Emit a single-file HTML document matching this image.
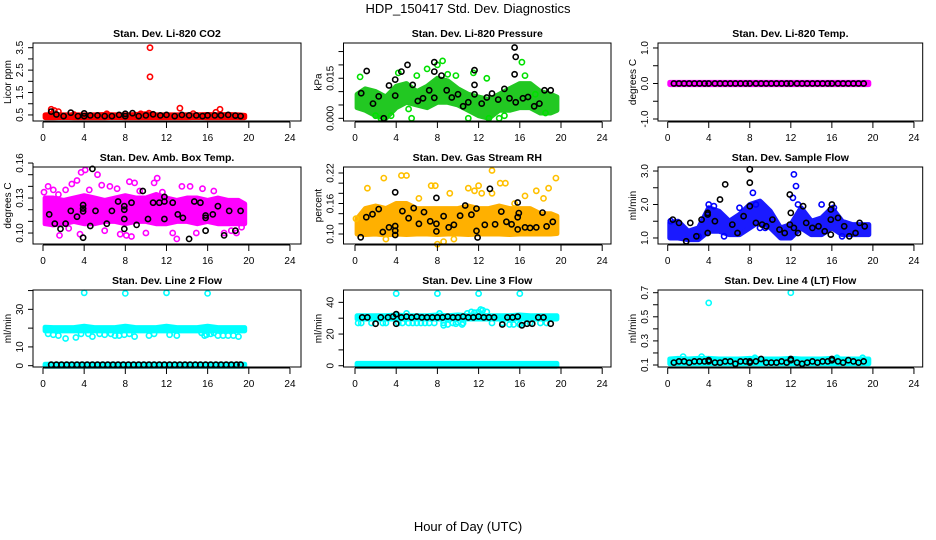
<!DOCTYPE html>
<html><head><meta charset="utf-8"><style>
body{margin:0;background:#fff;}
svg{display:block;font-family:"Liberation Sans",Arial,sans-serif;}
</style></head><body>
<svg id="chart" width="936" height="540" viewBox="0 0 936 540">
<rect width="936" height="540" fill="#fff"/>
<text x="468" y="13" text-anchor="middle" font-size="13">HDP_150417  Std. Dev. Diagnostics</text>
<text x="468" y="531" text-anchor="middle" font-size="13">Hour of Day (UTC)</text>
</svg>
<script>
const xTicks=[0,4,8,12,16,20,24];
const hrsB=[0.2,1,2,3,4,5,6,7,8,9,10,11,12,13,14,15,16,17,18,19,19.6];

// P1 CO2
const co2Lo=[0.38,0.38,0.39,0.38,0.38,0.38,0.38,0.39,0.38,0.38,0.38,0.38,0.38,0.38,0.38,0.39,0.38,0.38,0.38,0.38,0.38];
const co2Hi=[0.5,0.52,0.5,0.5,0.5,0.5,0.52,0.5,0.5,0.52,0.55,0.5,0.5,0.5,0.5,0.5,0.52,0.5,0.52,0.5,0.48];
const co2RedT=[0.8,1.1,1.5,10.4,10.4,13.3,17.2,16.8,10.3,14.6,6.2,9.5,3.0];
const co2RedV=[0.75,0.7,0.65,3.5,2.2,0.8,0.75,0.62,0.58,0.56,0.55,0.55,0.52];
const co2BlkT=[0.8,1.3,2.0,2.7,3.4,4.0,4.0,4.6,5.3,6.0,6.7,7.4,8.0,8.0,8.7,9.3,10.0,10.7,11.4,12.0,12.8,13.5,14.2,14.9,15.5,16.0,16.7,17.3,18.0,18.7,19.2];
const co2BlkV=[0.65,0.52,0.45,0.6,0.45,0.57,0.45,0.48,0.48,0.45,0.45,0.5,0.55,0.45,0.58,0.45,0.48,0.53,0.48,0.5,0.45,0.5,0.48,0.48,0.45,0.48,0.48,0.48,0.5,0.47,0.45];
// P2 Pressure
const presLo=[0.004,0.003,0.001,0.000,0.004,0.006,0.005,0.004,0.006,0.006,0.005,0.003,0.001,0.000,0.003,0.003,0.004,0.004,0.002,0.002,0.003];
const presHi=[0.009,0.011,0.010,0.008,0.012,0.013,0.010,0.012,0.015,0.014,0.011,0.009,0.008,0.007,0.009,0.011,0.013,0.013,0.010,0.009,0.008];
const presGrT=[0.5,2,2.5,3.5,5.2,5.5,7,8,8.5,9,11.5,11,13,14,14.5,16.5,16.2,17.5,18.5,4.2,6,9.8,12.8];
const presGrV=[0.0155,0.001,0,0.001,0.0035,0,0.0185,0.020,0.0215,0.0165,0.017,0,0,0,0.001,0.016,0.021,0.009,0.002,0.017,0.016,0.016,0.015];
const presBlkT=[1.14,0.6,1.75,2.3,2.8,3.9,3.9,3.3,4.5,5.1,5.6,6.1,6.6,7.2,7.7,7.7,7.7,8.4,8.9,9.4,10,10.5,11,11.6,11.6,11.6,12.3,12.8,13.3,13.9,14.5,15,15.5,15.6,15.5,15.6,16.3,16.8,17.4,17.9,18.4,19];
const presBlkV=[0.0177,0.0094,0.0055,0.0082,0,0.0085,0.0145,0.0123,0.0175,0.020,0.0125,0.0065,0.0075,0.0105,0.0175,0.021,0.0077,0.016,0.0105,0.0078,0.009,0.0045,0.006,0.018,0.0125,0.009,0.0055,0.0078,0.0093,0.007,0.011,0.0075,0.0265,0.023,0.0165,0.006,0.0075,0.008,0.0045,0.0055,0.0105,0.0105];
// P3 Li-820 Temp
const tempLo=[-0.03,-0.03,-0.03,-0.03,-0.03,-0.03,-0.03,-0.03,-0.03,-0.03,-0.03,-0.03,-0.03,-0.03,-0.03,-0.03,-0.03,-0.03,-0.03,-0.03,-0.03];
const tempHi=[0.03,0.03,0.03,0.03,0.03,0.03,0.03,0.03,0.03,0.03,0.03,0.03,0.03,0.03,0.03,0.03,0.03,0.03,0.03,0.03,0.03];
const tempBlkT=[0.6,1.1,1.6,2.1,2.6,3.1,3.6,4,4.6,5.1,5.6,6.1,6.6,7.1,7.6,8,8.6,9.1,9.6,10.1,10.6,11.1,11.6,12,12.6,13.1,13.6,14.1,14.6,15.1,15.6,16,16.6,17.1,17.6,18.1,18.6,19.1];
const tempBlkV=[0,0,0,0,0,0,0,0,0,0,0,0,0,0,0,0,0,0,0,0,0,0,0,0,0,0,0,0,0,0,0,0,0,0,0,0,0,0];
// P4 Amb box temp
const ambLo=[0.108,0.107,0.108,0.11,0.108,0.108,0.11,0.11,0.108,0.11,0.11,0.108,0.108,0.11,0.11,0.108,0.11,0.108,0.108,0.108,0.108];
const ambHi=[0.13,0.13,0.128,0.13,0.132,0.13,0.128,0.13,0.132,0.13,0.13,0.133,0.13,0.128,0.13,0.13,0.128,0.13,0.128,0.128,0.125];
const ambMgT=[0.1,0.5,1,1.5,1.6,2.2,2.8,3.3,3.7,4.1,3.6,4.5,5.3,5.7,6.5,7.2,7.5,8.1,8.4,8.6,8.9,9.4,10,10.8,11.1,11.6,12.6,13.0,13.5,14.3,14.9,15.5,16.6,17.6,18.3,18.8,19.3,6,2.5];
const ambMgV=[0.135,0.14,0.137,0.133,0.098,0.137,0.142,0.145,0.152,0.154,0.099,0.137,0.15,0.141,0.14,0.138,0.099,0.098,0.144,0.097,0.143,0.136,0.1,0.143,0.147,0.135,0.1,0.095,0.14,0.14,0.1,0.138,0.136,0.1,0.102,0.1,0.105,0.102,0.104];
const ambBlkT=[0.6,1.15,1.7,2.2,2.7,3.3,3.9,3.9,3.9,3.9,4.6,5.1,4.8,6.2,6.7,7.3,7.9,7.9,7.9,7.9,8.6,9.1,9.7,10.2,10.7,11.3,11.8,11.8,11.8,12.6,13.1,13.6,14.2,14.7,15.3,15.8,15.8,15.8,16.5,17,17.6,18.1,18.7,19.2];
const ambBlkV=[0.116,0.108,0.1035,0.108,0.119,0.114,0.121,0.124,0.1185,0.096,0.106,0.119,0.155,0.108,0.119,0.127,0.123,0.12,0.112,0.1035,0.126,0.107,0.136,0.112,0.126,0.126,0.127,0.131,0.112,0.126,0.116,0.113,0.095,0.127,0.126,0.115,0.113,0.102,0.116,0.123,0.098,0.119,0.102,0.119];
// P5 RH
const rhLo=[0.1,0.099,0.1,0.098,0.1,0.099,0.1,0.1,0.099,0.1,0.1,0.099,0.1,0.1,0.1,0.099,0.1,0.1,0.1,0.1,0.101];
const rhHi=[0.13,0.15,0.155,0.15,0.16,0.16,0.15,0.15,0.15,0.15,0.15,0.155,0.15,0.15,0.155,0.15,0.15,0.15,0.14,0.14,0.135];
const rhOrT=[0.1,1.2,2.8,4.5,5,6.2,7.4,7.8,8.6,9.2,11,11.6,12,12.3,13.3,13.3,14.1,14.6,16.5,17.6,18.3,18.8,19.5,8,3,9.6,15.5];
const rhOrV=[0.13,0.19,0.21,0.215,0.215,0.17,0.195,0.195,0.085,0.18,0.19,0.185,0.195,0.18,0.225,0.18,0.2,0.2,0.175,0.185,0.17,0.19,0.21,0.08,0.09,0.09,0.16];
const rhBlkT=[0.55,1.1,1.7,2.3,2.7,3.3,3.9,3.9,3.9,3.9,4.6,5.2,5.7,6.2,6.7,7.3,7.9,7.9,7.9,8.6,9.1,9.6,10.2,10.7,11.3,11.8,11.8,11.9,12.6,13.1,13.6,14.2,14.7,15.2,15.8,15.9,15.8,15.8,16.5,17,17.6,18.2,18.6,19.2];
const rhBlkV=[0.0935,0.133,0.139,0.149,0.104,0.113,0.1157,0.1065,0.098,0.182,0.145,0.131,0.151,0.12,0.143,0.125,0.171,0.12,0.105,0.135,0.113,0.118,0.136,0.156,0.138,0.15,0.106,0.093,0.118,0.189,0.119,0.144,0.124,0.119,0.162,0.141,0.133,0.109,0.113,0.112,0.113,0.142,0.115,0.124];
// P6 Sample flow
const sfLo=[1.0,1.0,0.95,0.95,1.2,1.2,1.1,1.1,1.3,1.5,1.3,1.0,1.0,1.3,1.1,1.1,1.3,1.1,1.1,1.1,1.1];
const sfHi=[1.45,1.5,1.2,1.3,1.9,1.8,1.5,1.7,2.0,2.1,1.8,1.3,1.4,1.9,1.5,1.6,1.9,1.5,1.4,1.4,1.4];
const sfBlT=[0.3,4,4.5,8.3,8.6,9,12.3,12.5,12.2,12.7,15,16.2,7,5.5,17,9.5,3];
const sfBlV=[1.5,2.0,1.95,2.35,2.0,1.3,2.9,2.55,2.2,2.0,2.0,1.9,1.9,1.05,1.05,1.3,1.05];
const sfBlkT=[0.5,1.1,1.8,2.2,2.8,3.3,3.9,3.9,3.9,4.6,5.1,5.6,6.3,6.8,7.4,8,8,8,8.6,9.2,9.6,10.2,10.9,11.4,11.9,12,11.9,12.3,12.7,13.2,13.5,14.1,14.7,15.3,15.9,15.9,15.9,16,16.6,17.2,17.7,18.3,18.7,19.2];
const sfBlkV=[1.55,1.45,0.9,1.45,1.05,1.55,1.75,1.7,1.15,1.5,2.15,2.6,1.4,1.15,1.65,3.05,2.65,1.95,1.45,1.4,1.35,1.55,1.25,1.15,2.3,1.75,1.4,1.3,1.15,1.95,1.45,1.3,1.35,1.2,1.1,1.55,1.85,2.0,1.6,1.35,1.05,1.15,1.45,1.35];
// P7 Line 2
const l2Lo=[18.5,18.5,18.5,18.5,18.5,18.5,18.5,18.5,18.5,18.5,18.5,18.5,18.5,18.5,18.5,18.5,18.5,18.5,18.5,18.5,18.5];
const l2Hi=[20.5,20.3,20.3,20.3,21,20.3,20.3,20.3,21,20.3,20.3,20.3,21,20.3,20.3,20.3,21,20.3,20.3,20.3,20.3];
const l2ZeroLo=[-0.3,-0.3,-0.3,-0.3,-0.3,-0.3,-0.3,-0.3,-0.3,-0.3,-0.3,-0.3,-0.3,-0.3,-0.3,-0.3,-0.3,-0.3,-0.3,-0.3,-0.3];
const l2ZeroHi=[0.8,0.8,0.8,0.8,0.8,0.8,0.8,0.8,0.8,0.8,0.8,0.8,0.8,0.8,0.8,0.8,0.8,0.8,0.8,0.8,0.8];
const l2CyT=[0.5,1,1.5,2.2,3.2,3.7,4.4,4.8,5.5,6,6.6,7,7.4,7.9,8.4,8.9,10.3,10.8,12.3,13,15.7,15.9,16.3,17,17.5,18,18.5,19,16.6,15.4,4,8,12,16];
const l2CyV=[17,16.5,16,14.5,15,17,17,15.5,17,16.5,17,16,16,16.5,17,15.5,16,17,16.5,16,16,16.5,17,16,16,16,16,15.5,17.5,17.5,38.8,38.5,38.8,38.5];
const l2BlkT=[0.8,1.3,1.8,2.3,2.8,3.3,3.8,4.3,4.8,5.3,5.8,6.3,6.8,7.3,7.8,8.3,8.8,9.3,9.8,10.3,10.8,11.3,11.8,12.3,12.8,13.3,13.8,14.3,14.8,15.3,15.8,16.3,16.8,17.3,17.8,18.3,18.8,19.2];
const l2BlkV=[0.5,0.5,0.5,0.5,0.5,0.5,0.5,0.5,0.5,0.5,0.5,0.5,0.5,0.5,0.5,0.5,0.5,0.5,0.5,0.5,0.5,0.5,0.5,0.5,0.5,0.5,0.5,0.5,0.5,0.5,0.5,0.5,0.5,0.5,0.5,0.5,0.5,0.5];
// P8 Line 3
const l3Lo=[29.5,29.5,29.5,29.5,29.5,29.5,29.5,29.5,29.5,29.5,29.5,29.5,29.5,29.5,29.5,29.5,29.5,29.5,29.5,29.5,29.5];
const l3Hi=[31.5,31.5,31.5,31.5,32,31.5,31.5,31.5,32,31.5,32,31.5,32,31.5,31.5,31.5,32,31.5,31.5,31.5,31.5];
const l3ZeroLo=[-0.3,-0.3,-0.3,-0.3,-0.3,-0.3,-0.3,-0.3,-0.3,-0.3,-0.3,-0.3,-0.3,-0.3,-0.3,-0.3,-0.3,-0.3,-0.3,-0.3,-0.3];
const l3ZeroHi=[1.5,1.5,1.5,1.5,1.5,1.5,1.5,1.5,1.5,1.5,1.5,1.5,1.5,1.5,1.5,1.5,1.5,1.5,1.5,1.5,1.5];
const l3CyT=[0.3,0.6,1.6,2.7,3,4.2,4.6,5.2,5.6,6,6.4,6.8,7.2,7.7,8.2,8.4,8.6,9,9.5,10,10.5,10.9,11.3,11.6,12,12.4,12.8,13.3,14.3,15,15.4,16,16.3,17,18,5,12.2,18.6,8.6,9.8,10.4,4,8,12,16];
const l3CyV=[27,27,27,27,27,27,27,27,27,27,27,27,27,27,33,31,27,26,27,27.5,27,33,34,33.5,34,35,34,27,27,26,26,26,27,27,27,33,35.5,27,25.5,26.5,26,45.5,45.5,45.5,45.5];
const l3BlkT=[0.7,1.2,2.0,2.5,3.2,3.7,4.0,4.0,4.5,5.0,5.5,6.0,6.5,7.0,7.5,8.0,8.5,9.0,9.5,10.0,10.5,11.0,11.5,12.0,12.5,13.0,13.5,14.3,14.8,15.3,15.8,16.2,16.7,17.2,17.8,18.3,19.0];
const l3BlkV=[30.5,30.5,26.5,30.5,30.5,31,32.5,26.5,30.5,31,30.5,31,30.5,30.5,30.5,30.5,30.5,31,30.5,30.5,31,30.5,30.5,31,30.5,30.5,30.5,26,30.5,30.5,31,25.5,26.5,26.5,30.5,30.5,26.5];
// P9 Line 4
const l4Lo=[0.11,0.11,0.11,0.11,0.11,0.11,0.11,0.11,0.11,0.11,0.11,0.11,0.11,0.11,0.11,0.11,0.11,0.11,0.11,0.11,0.11];
const l4Hi=[0.15,0.155,0.15,0.155,0.155,0.15,0.15,0.15,0.155,0.15,0.15,0.15,0.155,0.15,0.15,0.15,0.155,0.15,0.15,0.15,0.15];
const l4CyT=[4,12,1.5,3.3,8.5,16.5,19];
const l4CyV=[0.615,0.70,0.17,0.17,0.16,0.16,0.16];
const l4BlkT=[0.6,1.1,1.6,2.1,2.6,3.1,3.6,4,4,4.6,5.1,5.6,6.1,6.6,7.1,7.6,8,8,8.6,9.1,9.6,10.1,10.6,11.1,11.6,12,12,12.6,13.1,13.6,14.1,14.6,15.1,15.6,16,16,16.6,17.1,17.6,18.1,18.6,19.1];
const l4BlkV=[0.12,0.13,0.13,0.12,0.13,0.13,0.13,0.14,0.13,0.12,0.12,0.13,0.13,0.11,0.13,0.13,0.13,0.12,0.13,0.15,0.12,0.12,0.12,0.13,0.12,0.14,0.15,0.12,0.11,0.12,0.13,0.12,0.13,0.13,0.14,0.15,0.13,0.12,0.14,0.13,0.12,0.13];

const panels=[
 {name:'co2',col:0,row:0,title:'Stan. Dev. Li-820 CO2',ylab:'Licor ppm',ymin:0.23,ymax:3.71,yt:[0.5,1,1.5,2,2.5,3,3.5],yl:['0.5','1.5','2.5','3.5'],ylv:[0.5,1.5,2.5,3.5],
  layers:[{b:1,x:hrsB,lo:co2Lo,hi:co2Hi,c:'#ff0000'},{x:co2RedT,y:co2RedV,c:'#ff0000'},{x:co2BlkT,y:co2BlkV,c:'#000'}]},
 {name:'pressure',col:1,row:0,title:'Stan. Dev. Li-820 Pressure',ylab:'kPa',ymin:-0.001,ymax:0.0282,yt:[0,0.005,0.01,0.015,0.02,0.025],yl:['0.000','0.015'],ylv:[0,0.015],
  layers:[{b:1,x:hrsB,lo:presLo,hi:presHi,c:'#22c822'},{x:presGrT,y:presGrV,c:'#00e000'},{x:presBlkT,y:presBlkV,c:'#000'}]},
 {name:'li820-temp',col:2,row:0,title:'Stan. Dev. Li-820 Temp.',ylab:'degrees C',ymin:-1.056,ymax:1.14,yt:[-1,-0.5,0,0.5,1],yl:['-1.0','0.0','1.0'],ylv:[-1,0,1],
  layers:[{b:1,x:hrsB,lo:tempLo,hi:tempHi,c:'#ff00ff'},{x:tempBlkT,y:tempBlkV,c:'#000'}]},
 {name:'amb-box-temp',col:0,row:1,title:'Stan. Dev. Amb. Box Temp.',ylab:'degrees C',ymin:0.0906,ymax:0.1566,yt:[0.1,0.11,0.12,0.13,0.14,0.15,0.16],yl:['0.10','0.13','0.16'],ylv:[0.1,0.13,0.16],
  layers:[{b:1,x:hrsB,lo:ambLo,hi:ambHi,c:'#ff00ff'},{x:ambMgT,y:ambMgV,c:'#ff00ff'},{x:ambBlkT,y:ambBlkV,c:'#000'}]},
 {name:'gas-stream-rh',col:1,row:1,title:'Stan. Dev. Gas Stream RH',ylab:'percent',ymin:0.0803,ymax:0.2318,yt:[0.1,0.12,0.14,0.16,0.18,0.2,0.22],yl:['0.10','0.16','0.22'],ylv:[0.1,0.16,0.22],
  layers:[{b:1,x:hrsB,lo:rhLo,hi:rhHi,c:'#ffb000'},{x:rhOrT,y:rhOrV,c:'#ffc000'},{x:rhBlkT,y:rhBlkV,c:'#000'}]},
 {name:'sample-flow',col:2,row:1,title:'Stan. Dev. Sample Flow',ylab:'ml/min',ymin:0.82,ymax:3.12,yt:[1,1.5,2,2.5,3],yl:['1.0','2.0','3.0'],ylv:[1,2,3],
  layers:[{b:1,x:hrsB,lo:sfLo,hi:sfHi,c:'#1a1aff'},{x:sfBlT,y:sfBlV,c:'#0000ff'},{x:sfBlkT,y:sfBlkV,c:'#000'}]},
 {name:'line2-flow',col:0,row:2,title:'Stan. Dev. Line 2 Flow',ylab:'ml/min',ymin:-0.7,ymax:40.3,yt:[0,10,20,30,40],yl:['0','10','30'],ylv:[0,10,30],
  layers:[{b:1,x:hrsB,lo:l2Lo,hi:l2Hi,c:'#00ffff'},{b:1,x:hrsB,lo:l2ZeroLo,hi:l2ZeroHi,c:'#00ffff'},{x:l2CyT,y:l2CyV,c:'#00ffff'},{x:l2BlkT,y:l2BlkV,c:'#000'}]},
 {name:'line3-flow',col:1,row:2,title:'Stan. Dev. Line 3 Flow',ylab:'ml/min',ymin:-0.8,ymax:47.8,yt:[0,10,20,30,40],yl:['0','20','40'],ylv:[0,20,40],
  layers:[{b:1,x:hrsB,lo:l3Lo,hi:l3Hi,c:'#00ffff'},{b:1,x:hrsB,lo:l3ZeroLo,hi:l3ZeroHi,c:'#00ffff'},{x:l3CyT,y:l3CyV,c:'#00ffff'},{x:l3BlkT,y:l3BlkV,c:'#000'}]},
 {name:'line4-flow',col:2,row:2,title:'Stan. Dev. Line 4 (LT) Flow',ylab:'ml/min',ymin:0.0834,ymax:0.7224,yt:[0.1,0.2,0.3,0.4,0.5,0.6,0.7],yl:['0.1','0.3','0.5','0.7'],ylv:[0.1,0.3,0.5,0.7],
  layers:[{b:1,x:hrsB,lo:l4Lo,hi:l4Hi,c:'#00ffff'},{x:l4CyT,y:l4CyV,c:'#00ffff'},{x:l4BlkT,y:l4BlkV,c:'#000'}]}
];

const colLeft=[33,343.5,658], colRight=[301,611,922.7], colX0=[43,355,667.7], colS=[10.29,10.3,10.26];
const rowTop=[43,167,290], rowBot=[121,244,367];
const NS='http://www.w3.org/2000/svg';
const svg=document.getElementById('chart');
function mk(tag,attrs,parent){const e=document.createElementNS(NS,tag);for(const k in attrs)e.setAttribute(k,attrs[k]);(parent||svg).appendChild(e);return e;}

panels.forEach(p=>{
  const L=colLeft[p.col],R=colRight[p.col],T=rowTop[p.row],B=rowBot[p.row];
  const xs=t=>colX0[p.col]+t*colS[p.col];
  const ys=v=>B-(v-p.ymin)/(p.ymax-p.ymin)*(B-T);
  const g=mk('g',{});
  
  
  const clipId='clip-'+p.name;
  const cp=mk('clipPath',{id:clipId},g);
  mk('rect',{x:L-4,y:T-4,width:R-L+8,height:B-T+8},cp);
  const plot=mk('g',{'clip-path':'url(#'+clipId+')'},g);
  
  
  p.layers.forEach((ly,li)=>{
    if(ly.b){
      let pts=[];
      for(let i=0;i<ly.x.length;i++)pts.push(xs(ly.x[i]).toFixed(1)+','+ys(ly.hi[i]).toFixed(1));
      for(let i=ly.x.length-1;i>=0;i--)pts.push(xs(ly.x[i]).toFixed(1)+','+ys(ly.lo[i]).toFixed(1));
      const poly=mk('polygon',{points:pts.join(' '),fill:ly.c,stroke:ly.c,'stroke-width':5,'stroke-linejoin':'round'},plot);
      
      
    } else {
      const n=Math.min(ly.x.length,ly.y.length);
      for(let i=0;i<n;i++){
        const c=mk('circle',{cx:xs(ly.x[i]).toFixed(1),cy:ys(ly.y[i]).toFixed(1),r:2.6,fill:'none',stroke:ly.c,'stroke-width':1.6},plot);
        
        
      }
    }
  });
  const box=mk('rect',{x:L,y:T,width:R-L,height:B-T,fill:'none',stroke:'#000','stroke-width':1},g);
  
  
  mk('line',{x1:xs(xTicks[0]),x2:xs(xTicks[xTicks.length-1]),y1:B+1,y2:B+1,stroke:'#000'},g);
  xTicks.forEach(t=>{
    mk('line',{x1:xs(t),x2:xs(t),y1:B+1,y2:B+7,stroke:'#000'},g);
    const tx=mk('text',{x:xs(t),y:B+20,'text-anchor':'middle','font-size':10},g);
    tx.textContent=String(t);
    
    
  });
  mk('line',{x1:L,x2:L,y1:ys(p.yt[0]),y2:ys(p.yt[p.yt.length-1]),stroke:'#000'},g);
  p.yt.forEach(v=>mk('line',{x1:L-5,x2:L,y1:ys(v),y2:ys(v),stroke:'#000'},g));
  p.ylv.forEach((v,i)=>{
    const x=L-10,y=ys(v);
    const tx=mk('text',{x:x,y:y,transform:'rotate(-90 '+x+' '+y+')','text-anchor':'middle','font-size':10},g);
    tx.textContent=p.yl[i];
    
    
  });
  const yx=L-22,yy=(T+B)/2;
  const yl=mk('text',{x:yx,y:yy,transform:'rotate(-90 '+yx+' '+yy+')','text-anchor':'middle','font-size':10},g);
  yl.textContent=p.ylab;
  
  
  const tt=mk('text',{x:(L+R)/2,y:T-6,'text-anchor':'middle','font-size':10.5,'font-weight':'bold'},g);
  tt.textContent=p.title;
  
  
});
</script>
</body></html>
